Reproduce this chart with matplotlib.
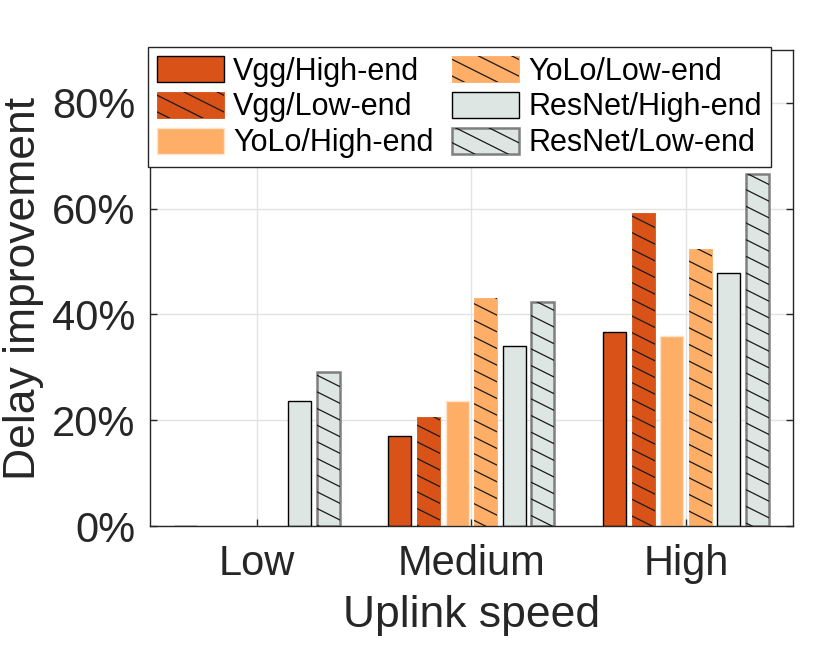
import numpy as np
import matplotlib
matplotlib.use('Agg')
import matplotlib.pyplot as plt
from matplotlib import hatch as mhatch
from matplotlib.path import Path
from matplotlib.legend_handler import HandlerTuple


# shallower "\\" hatch, like the MATLAB hatchfill look
class ShallowBackHatch(mhatch.HatchPatternBase):
    def __init__(self, hatch, density):
        n = hatch.count('\\')
        self.spacing = 6 * n
        self.num_lines = (self.spacing * 3 // 2 + 3) if n else 0
        self.num_vertices = self.num_lines * 2

    def set_vertices_and_codes(self, vertices, codes):
        b = (np.arange(self.num_lines) - 1) / self.spacing
        vertices[0::2, 0] = 0.0
        vertices[0::2, 1] = b
        vertices[1::2, 0] = 1.0
        vertices[1::2, 1] = b - 0.5
        codes[0::2] = Path.MOVETO
        codes[1::2] = Path.LINETO


mhatch._hatch_types = [ShallowBackHatch if c is mhatch.SouthEastHatch else c
                       for c in mhatch._hatch_types]

plt.rcParams['font.family'] = ['Liberation Sans', 'DejaVu Sans']
plt.rcParams['hatch.linewidth'] = 0.9

# data
categories = ['Low', 'Medium', 'High']
series_names = ['Vgg/High-end', 'Vgg/Low-end', 'YoLo/High-end',
                'YoLo/Low-end', 'ResNet/High-end', 'ResNet/Low-end']
vgg_high = [0, 17.0, 36.6]
vgg_low = [0, 20.6, 59.2]
yolo_high = [0, 23.6, 35.9]
yolo_low = [0, 43.2, 52.3]
resnet_high = [23.6, 34.0, 47.9]
resnet_low = [29.1, 42.4, 66.5]
values = [vgg_high, vgg_low, yolo_high, yolo_low, resnet_high, resnet_low]

face_colors = ['#D95319', '#D95319', '#FEAE66', '#FEAE66', '#DEE6E4', '#DEE6E4']
edge_colors = ['#000000', '#D95319', '#FFE3C8', '#FEAE66', '#000000', '#7F7F7F']
edge_widths = [1.0, 0.6, 1.0, 0.6, 1.0, 1.8]
hatched = [False, True, False, True, False, True]

fig = plt.figure(figsize=(8.3, 6.56), dpi=100)
ax = fig.add_axes([149.5 / 830, 1 - 526 / 656, (793.3 - 149.5) / 830, (526 - 50) / 656])

x = np.arange(len(categories)) + 1
nser = len(values)
step = 0.8 / nser
width = step * 0.8

handles = []
for i in range(nser):
    pos = x + (i - (nser - 1) / 2) * step
    b1 = ax.bar(pos, values[i], width, color=face_colors[i],
                edgecolor=edge_colors[i], linewidth=edge_widths[i], zorder=2)
    h = b1
    if hatched[i]:
        b2 = ax.bar(pos, values[i], width, color='none', edgecolor='#1a1a1a',
                    linewidth=0, hatch='\\', zorder=3)
        h = (b1, b2)
    handles.append(h)

ax.set_xlim(0.5, 3.5)
ax.set_ylim(0, 90)
ax.set_xticks(x)
ax.set_xticklabels(categories)
ax.set_yticks([0, 20, 40, 60, 80])
ax.set_yticklabels(['0%', '20%', '40%', '60%', '80%'])

ax.grid(True, color='#e3e3e3', linewidth=1.0, zorder=0)
ax.set_axisbelow(True)
for s in ax.spines.values():
    s.set_color('#262626')
    s.set_linewidth(1.0)
ax.tick_params(direction='in', length=5, width=1, colors='#262626',
               top=True, right=True, labelsize=30)
ax.tick_params(axis='x', pad=13)
ax.tick_params(axis='y', pad=10)

ax.set_xlabel('Uplink speed', fontsize=32, color='#262626', labelpad=8)
ax.set_ylabel('Delay improvement', fontsize=32, color='#262626', labelpad=6)

leg = ax.legend(handles, series_names, ncol=2, loc='upper left',
                bbox_to_anchor=(147.7 / 830, 1 - 46.7 / 656),
                bbox_transform=fig.transFigure, borderaxespad=0,
                fontsize=22, handlelength=2.2, handleheight=0.95,
                handletextpad=0.3, labelspacing=0.17, columnspacing=0.6,
                borderpad=0.3, fancybox=False, framealpha=1,
                edgecolor='#262626', handler_map={tuple: HandlerTuple(ndivide=1)})
leg.get_frame().set_linewidth(1.0)
leg.set_zorder(5)
for t in leg.get_texts():
    t.set_color('black')

plt.savefig('out.png', dpi=100)
plt.close()
